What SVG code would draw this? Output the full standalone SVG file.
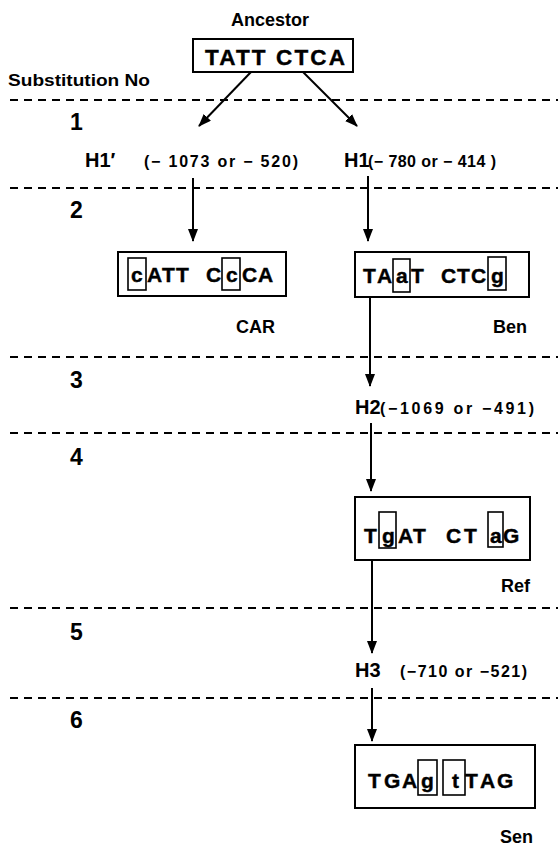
<svg xmlns="http://www.w3.org/2000/svg" width="558" height="848" viewBox="0 0 558 848">
<defs>
<style>
text{font-family:"Liberation Sans",Arial,sans-serif;font-weight:bold;fill:#000}
.lbl{font-size:18px}
.seq{font-size:21px;stroke:#000;stroke-width:0.4}
.num{font-size:23px}
.h{font-size:20px}
.par{font-size:16px}
.name{font-size:18px}
.box{fill:#fff;stroke:#000;stroke-width:2}
.mut{fill:none;stroke:#000;stroke-width:1.6}
.dash{stroke:#000;stroke-width:2;stroke-dasharray:8 6;fill:none}
.con{stroke:#000;stroke-width:2;fill:none;marker-end:url(#ah)}
</style>
<marker id="ah" viewBox="0 0 13 10" refX="12" refY="5" markerWidth="13" markerHeight="10" markerUnits="userSpaceOnUse" orient="auto">
<path d="M0,0 L13,5 L0,10 Z" fill="#000"/>
</marker>
</defs>
<rect width="558" height="848" fill="#fff"/>

<g id="substitution-rows">
<text x="8" y="86" style="font-size:16px" textLength="142" lengthAdjust="spacingAndGlyphs">Substitution No</text>
<line class="dash" x1="10" y1="100" x2="558" y2="100"/>
<line class="dash" x1="10" y1="188" x2="558" y2="188"/>
<line class="dash" x1="10" y1="357" x2="558" y2="357"/>
<line class="dash" x1="10" y1="433" x2="558" y2="433"/>
<line class="dash" x1="10" y1="608" x2="558" y2="608"/>
<line class="dash" x1="10" y1="698" x2="558" y2="698"/>
<text class="num" x="70" y="130">1</text>
<text class="num" x="70" y="218">2</text>
<text class="num" x="70" y="388">3</text>
<text class="num" x="70" y="465">4</text>
<text class="num" x="70" y="640">5</text>
<text class="num" x="70" y="728">6</text>
</g>

<g id="connectors">
<line class="con" x1="251" y1="72" x2="199" y2="126"/>
<line class="con" x1="303" y1="72" x2="357" y2="126"/>
<line class="con" x1="193" y1="178" x2="193" y2="241"/>
<line class="con" x1="368" y1="176" x2="368" y2="241"/>
<line class="con" x1="370" y1="297" x2="370" y2="386"/>
<line class="con" x1="371" y1="423" x2="371" y2="491"/>
<line class="con" x1="372" y1="560" x2="372" y2="653"/>
<line class="con" x1="372" y1="688" x2="372" y2="741"/>
</g>

<g id="ancestor">
<text class="lbl" x="270" y="26" text-anchor="middle">Ancestor</text>
<rect class="box" x="193" y="39" width="160" height="33"/>
<text class="seq" x="205" y="65" textLength="140" lengthAdjust="spacing" style="font-size:22.5px">TATT CTCA</text>
</g>

<g id="H1prime">
<text class="h" x="85" y="167">H1′</text>
<text class="par" x="144" y="167" textLength="154" lengthAdjust="spacing">(− 1073 or − 520)</text>
</g>

<g id="H1">
<text class="h" x="344" y="167">H1</text>
<text class="par" x="368" y="167" textLength="128" lengthAdjust="spacing">(− 780 or − 414 )</text>
</g>

<g id="CAR">
<rect class="box" x="118" y="252" width="168" height="44"/>
<text class="seq" x="131 147 162 176 206 226 242 258" y="282">cATTCcCA</text>
<rect class="mut" x="128" y="258" width="18" height="32"/>
<rect class="mut" x="222" y="258" width="18" height="32"/>
<text class="name" x="236" y="333">CAR</text>
</g>

<g id="Ben">
<rect class="box" x="355" y="252" width="174" height="45"/>
<text class="seq" x="363 377 396 411 441 457 471 491" y="283">TAaTCTCg</text>
<rect class="mut" x="393" y="259" width="17" height="33"/>
<rect class="mut" x="488" y="257" width="18" height="33"/>
<text class="name" x="493" y="333">Ben</text>
</g>

<g id="H2">
<text class="h" x="355" y="414">H2</text>
<text class="par" x="380" y="414" textLength="154" lengthAdjust="spacing">(−1069 or −491)</text>
</g>

<g id="Ref">
<rect class="box" x="355" y="497" width="175" height="63"/>
<text class="seq" x="364 382 398 413 446 464 490 503" y="543">TgATCTaG</text>
<rect class="mut" x="379" y="512" width="17" height="36"/>
<rect class="mut" x="488" y="512" width="15" height="35"/>
<text class="name" x="501" y="592">Ref</text>
</g>

<g id="H3">
<text class="h" x="355" y="677">H3</text>
<text class="par" x="400" y="677" textLength="127" lengthAdjust="spacing">(−710 or −521)</text>
</g>

<g id="Sen">
<rect class="box" x="355" y="745" width="180" height="63"/>
<text class="seq" x="368 384 402 421 452 465 480 497" y="788">TGAgtTAG</text>
<rect class="mut" x="418" y="760" width="19" height="35"/>
<rect class="mut" x="443" y="760" width="22" height="35"/>
<text class="name" x="500" y="843">Sen</text>
</g>
</svg>
